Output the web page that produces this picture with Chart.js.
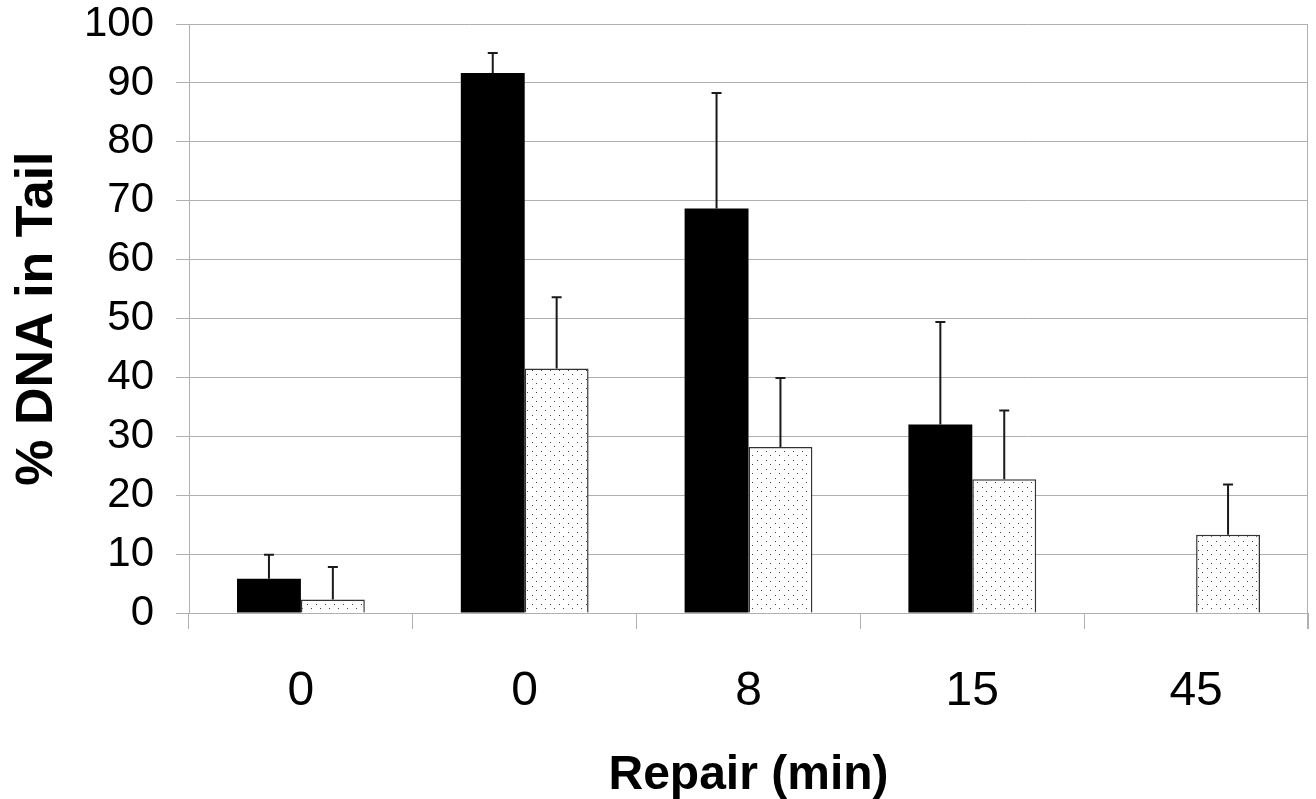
<!DOCTYPE html>
<html>
<head>
<meta charset="utf-8">
<script src="https://cdn.jsdelivr.net/npm/chart.js@4/dist/chart.umd.min.js"></script>
<style>
html,body{margin:0;padding:0;background:#fff;}
#wrap{width:1316px;height:799px;position:relative;}
</style>
</head>
<body>
<div id="wrap"><canvas id="c" width="1316" height="799"></canvas></div>
<script>
const categories = ['0', '0', '8', '15', '45'];
const blackValues = [5.8, 91.7, 68.7, 32.0, null];
const blackErrors = [4.1, 3.4, 19.6, 17.4, null];
const dottedValues = [2.3, 41.5, 28.2, 22.7, 13.3];
const dottedErrors = [5.5, 12.1, 11.7, 11.7, 8.5];
const yTicks = [0, 10, 20, 30, 40, 50, 60, 70, 80, 90, 100];

function makeDots() {
  const t = document.createElement('canvas');
  t.width = 9; t.height = 9;
  const g = t.getContext('2d');
  g.fillStyle = '#fff';
  g.fillRect(0, 0, 9, 9);
  g.fillStyle = '#444';
  g.fillRect(1, 1, 1, 1);
  g.fillRect(5, 5, 1, 1);
  return g.createPattern(t, 'repeat');
}

const errorPlugin = {
  id: 'errorBars',
  afterDatasetsDraw(chart) {
    const ctx = chart.ctx;
    const y = chart.scales.y;
    chart.data.datasets.forEach((ds, di) => {
      const meta = chart.getDatasetMeta(di);
      meta.data.forEach((el, i) => {
        const v = ds.data[i], e = ds.errors[i];
        if (v == null || e == null) return;
        const yTop = y.getPixelForValue(v + e);
        ctx.save();
        ctx.strokeStyle = '#1a1a1a';
        ctx.lineWidth = 2;
        ctx.beginPath();
        ctx.moveTo(el.x, el.y);
        ctx.lineTo(el.x, yTop);
        ctx.moveTo(el.x - 5, yTop);
        ctx.lineTo(el.x + 5, yTop);
        ctx.stroke();
        ctx.restore();
      });
    });
  }
};

const borderPlugin = {
  id: 'rightBorder',
  afterDraw(chart) {
    const a = chart.chartArea, ctx = chart.ctx;
    ctx.save();
    ctx.strokeStyle = '#b0b0b0';
    ctx.lineWidth = 1;
    ctx.beginPath();
    ctx.moveTo(Math.round(a.right) - 0.5, a.top);
    ctx.lineTo(Math.round(a.right) - 0.5, a.bottom + 16);
    ctx.stroke();
    ctx.restore();
  }
};

new Chart(document.getElementById('c'), {
  type: 'bar',
  data: {
    labels: categories,
    datasets: [
      {
        data: blackValues,
        errors: blackErrors,
        backgroundColor: '#000',
        borderColor: '#000',
        borderWidth: 0
      },
      {
        data: dottedValues,
        errors: dottedErrors,
        backgroundColor: makeDots(),
        borderColor: '#333',
        borderWidth: 1.5
      }
    ]
  },
  options: {
    responsive: false,
    animation: false,
    layout: { padding: { top: 0, right: 8, left: 0, bottom: 0 } },
    plugins: { legend: { display: false }, tooltip: { enabled: false } },
    datasets: { bar: { barPercentage: 1, categoryPercentage: 0.571 } },
    scales: {
      x: {
        grid: { display: true, drawOnChartArea: false, offset: true, color: '#b0b0b0', tickLength: 16, tickColor: '#b0b0b0' },
        border: { display: false },
        ticks: { color: '#000', font: { family: 'Liberation Sans, Arial', size: 48 }, padding: 34 },
        title: { display: true, text: 'Repair (min)', color: '#000', font: { family: 'Liberation Sans, Arial', size: 48, weight: 'bold', lineHeight: 0.95 }, padding: { top: 0, bottom: 0 } },
        afterFit(s) { s.height = 186; }
      },
      y: {
        min: 0, max: 100,
        afterBuildTicks(s) { s.ticks = yTicks.map(v => ({ value: v })); },
        grid: { color: '#b0b0b0', tickLength: 13, tickColor: '#b0b0b0', lineWidth: 1 },
        border: { display: true, color: '#b0b0b0', width: 1 },
        ticks: { color: '#000', font: { family: 'Liberation Sans, Arial', size: 42, lineHeight: 0.1 }, padding: 22 },
        title: { display: true, text: '% DNA in Tail', color: '#000', font: { family: 'Liberation Sans, Arial', size: 52, weight: 'bold' }, padding: { top: 6, bottom: 0 } },
        afterFit(s) { s.width = 189; }
      }
    }
  },
  plugins: [errorPlugin, borderPlugin]
});
</script>
</body>
</html>
